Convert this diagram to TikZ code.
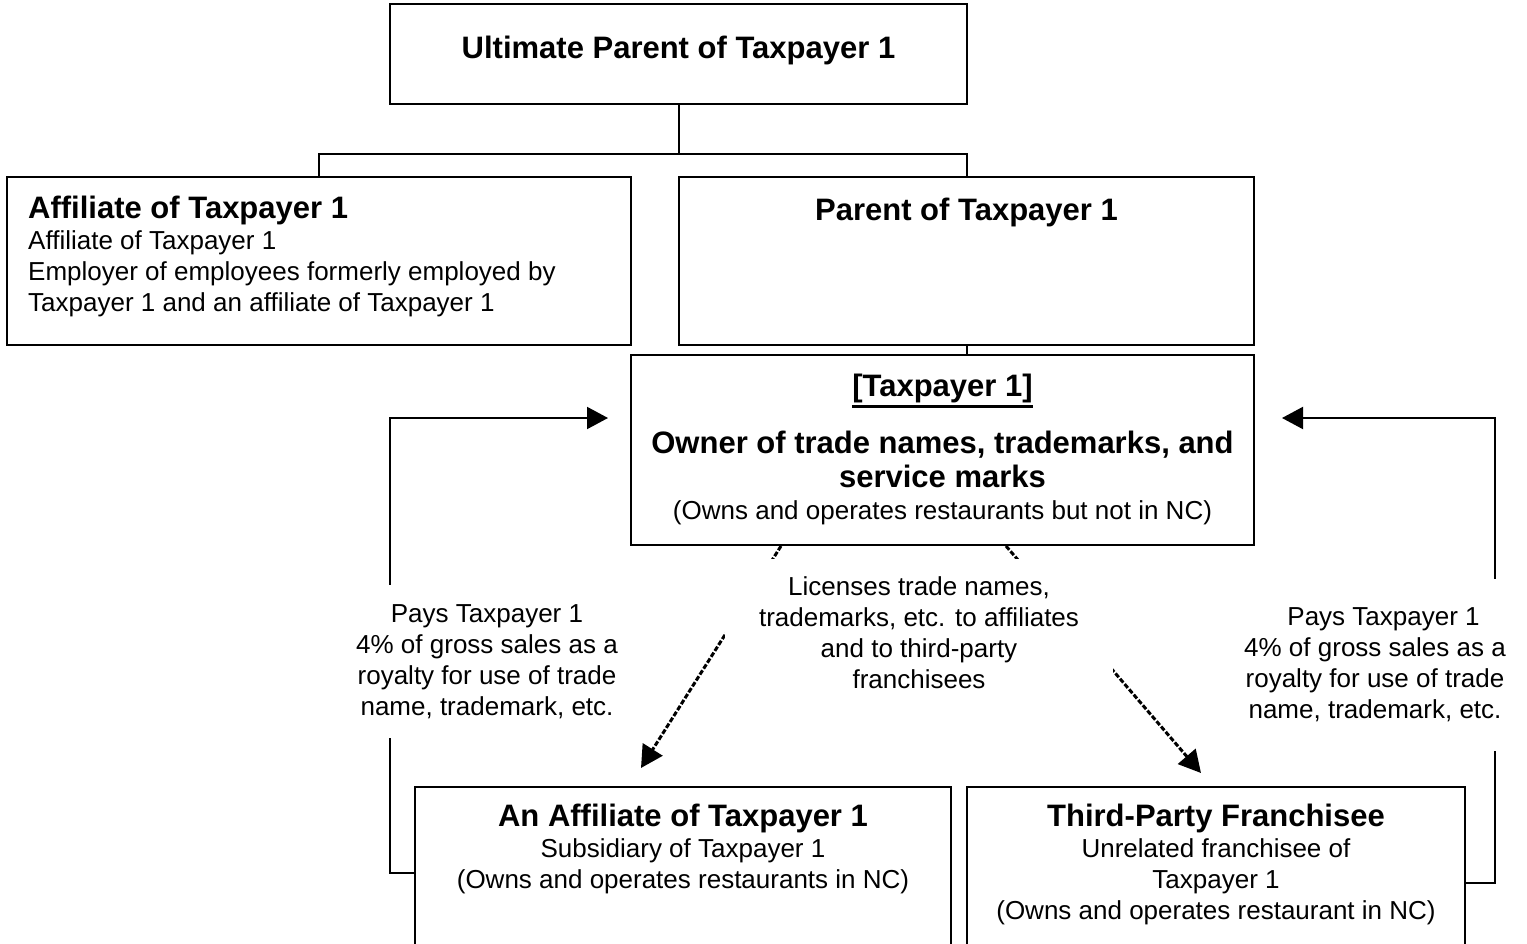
\documentclass[tikz,border=0pt]{standalone}
\usepackage{fontspec}
\setmainfont{Liberation Sans}
\usetikzlibrary{arrows.meta,positioning}
\newcommand{\headfont}{\fontsize{31}{34}\selectfont\bfseries}
\newcommand{\bodyfont}{\fontsize{26}{31}\selectfont}
\newcommand{\tpunderline}[1]{\vtop{\hbox{#1}\kern3pt\hrule height 2.5pt}}

\begin{document}
\begin{tikzpicture}[x=1pt, y=-1pt,
    orgbox/.style={draw, line width=2pt, inner sep=0pt},
    link/.style={line width=2pt},
    licarrow/.style={line width=3pt, dash pattern=on 5pt off 2pt, -{Triangle[length=22pt,width=23pt]}},
    payarrow/.style={line width=2pt, -{Triangle[length=21pt,width=22pt]}},
    head/.style={font=\headfont, inner sep=0pt, align=center},
    body/.style={font=\bodyfont, inner sep=0pt, align=center},
    note/.style={font=\bodyfont, fill=white, inner sep=0pt, align=center}]

  \useasboundingbox (0,0) rectangle (1527,944);

  % Draw the boxes
  \node[orgbox, minimum width=577pt, minimum height=100pt] (ult) at (678.5,54) {};
  \node[orgbox, minimum width=624pt, minimum height=168pt] (aff) at (319,261) {};
  \node[orgbox, minimum width=575pt, minimum height=168pt] (par) at (966.5,261) {};
  \node[orgbox, minimum width=623pt, minimum height=190pt] (tp) at (942.5,450) {};
  \node[orgbox, minimum width=536pt, minimum height=180pt] (sub) at (683,877) {};
  \node[orgbox, minimum width=498pt, minimum height=180pt] (fr) at (1216,877) {};

  % Box texts
  \node[head, anchor=base] (ulttext) at (678.5,59) {Ultimate Parent of Taxpayer 1};
  \node[head, anchor=base west] (afftext) at (28,219) {Affiliate of Taxpayer 1};
  \node[body, anchor=north west, align=left] (affbody) at (28,230)
    {Affiliate of Taxpayer 1\\Employer of employees formerly employed by\\Taxpayer 1 and an affiliate of Taxpayer 1};
  \node[head, anchor=base] (partext) at (966.5,221) {Parent of Taxpayer 1};
  \node[head, anchor=base] (tptitle) at (942.5,396) {\tpunderline{[Taxpayer 1]}};
  \node[head, anchor=north] (tphead) at (942.5,431) {Owner of trade names, trademarks, and\\service marks};
  \node[body, anchor=base] (tpbody) at (942.5,519) {(Owns and operates restaurants but not in NC)};
  \node[head, anchor=base] (subtext) at (683,826) {An Affiliate of Taxpayer 1};
  \node[body, anchor=north] (subbody) at (683,838) {Subsidiary of Taxpayer 1\\(Owns and operates restaurants in NC)};
  \node[head, anchor=base] (frtext) at (1216,826) {Third-Party Franchisee};
  \node[body, anchor=north] (frbody) at (1216,838)
    {Unrelated franchisee of\\Taxpayer 1\\(Owns and operates restaurant in NC)};

  % Draw ownership lines
  \draw[link] (ult.south) -- ++(0,49) coordinate (split);
  \draw[link] (split) -| (aff.north);
  \draw[link] (split) -| (par.north);
  \draw[link] (par.south) -- (par.south |- tp.north);

  % Draw licence arrows
  \coordinate (subtip) at (641,768);
  \coordinate (frtip) at (1201,773);
  \draw[licarrow] ([xshift=151pt]tp.south west) -- (subtip);
  \draw[licarrow] ([xshift=376pt]tp.south west) -- (frtip);

  % Draw royalty loops
  \coordinate (lpaytip) at (608,418);
  \coordinate (rpaytip) at (1282,418);
  \draw[payarrow] ([yshift=4pt]sub.west) -- ++(-24,0) |- (lpaytip);
  \draw[payarrow] ([yshift=-6pt]fr.east) -- ++(29,0) |- (rpaytip);

  % Labels on top of the lines
  \node[note, minimum width=388pt, minimum height=148pt] (licnote) at (919,633)
    {Licenses trade names,\\trademarks, etc. to affiliates\\and to third-party\\franchisees};
  \node[note, minimum width=300pt, minimum height=153pt] (lpay) at (487,661.5)
    {Pays Taxpayer 1\\4\% of gross sales as a\\royalty for use of trade\\name, trademark, etc.};
  \node[note, minimum width=270pt, minimum height=172pt] (rpay) at (1375,665)
    {\hspace*{17pt}Pays Taxpayer 1\\4\% of gross sales as a\\royalty for use of trade\\name, trademark, etc.};

\end{tikzpicture}
\end{document}
